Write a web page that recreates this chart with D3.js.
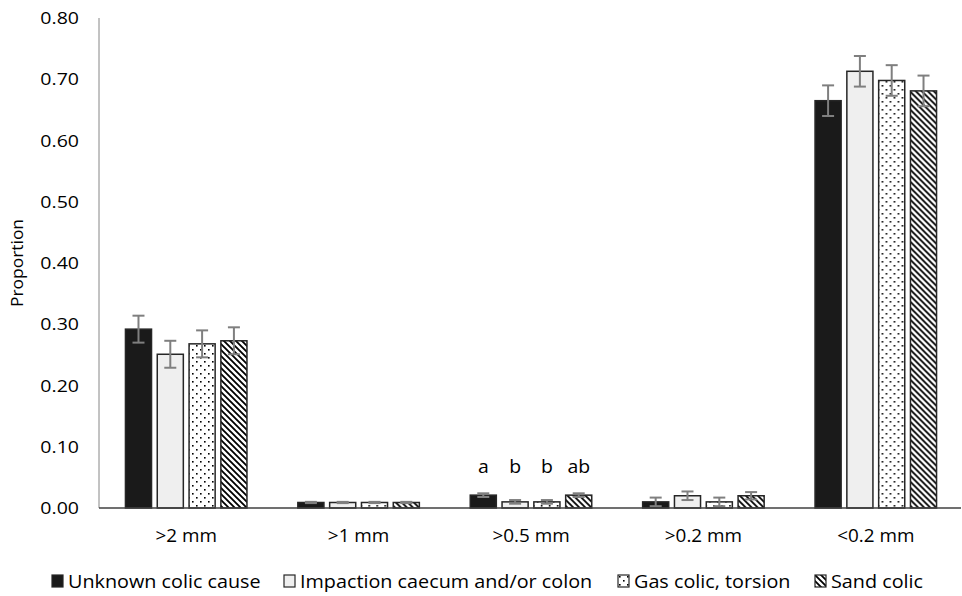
<!DOCTYPE html>
<html>
<head>
<meta charset="utf-8">
<script src="https://cdn.jsdelivr.net/npm/d3@7"></script>
<style>
	body { margin: 0; background: #fff; }
	svg text { font-family: "Open Sans", sans-serif; fill: #000; }
</style>
</head>
<body>
<svg width="962" height="596"></svg>
<script>
var categories = [">2 mm", ">1 mm", ">0.5 mm", ">0.2 mm", "<0.2 mm"];
var seriesNames = ["Unknown colic cause", "Impaction caecum and/or colon", "Gas colic, torsion", "Sand colic"];
var unknownVals = [0.292, 0.009, 0.021, 0.010, 0.665];
var impactionVals = [0.251, 0.009, 0.010, 0.020, 0.713];
var gasVals = [0.268, 0.009, 0.010, 0.010, 0.698];
var sandVals = [0.273, 0.009, 0.021, 0.020, 0.681];
var unknownErr = [0.022, 0.001, 0.003, 0.007, 0.025];
var impactionErr = [0.022, 0.001, 0.003, 0.007, 0.025];
var gasErr = [0.022, 0.001, 0.003, 0.007, 0.025];
var sandErr = [0.022, 0.001, 0.003, 0.006, 0.025];
var sigLetters = ["a", "b", "b", "ab"]; // for >0.5 mm
var yTicks = [0, 0.1, 0.2, 0.3, 0.4, 0.5, 0.6, 0.7, 0.8];

var values = [unknownVals, impactionVals, gasVals, sandVals];
var errors = [unknownErr, impactionErr, gasErr, sandErr];
var fills = ["#1a1a1a", "#efefef", "url(#dots)", "url(#hatch)"];

var svg = d3.select("svg");
var defs = svg.append("defs");

// the original text is a bit wider than Open Sans, so stretch it sideways
function place(x, y, sx) {
	return "translate(" + x + "," + y + ") scale(" + sx + ",1)";
}

var dots = defs.append("pattern").attr("id", "dots")
	.attr("patternUnits", "userSpaceOnUse").attr("width", 8).attr("height", 8);
dots.append("rect").attr("width", 8).attr("height", 8).attr("fill", "#fff");
dots.append("rect").attr("x", 1).attr("y", 1).attr("width", 1.6).attr("height", 1.6).attr("fill", "#000");
dots.append("rect").attr("x", 5).attr("y", 5).attr("width", 1.6).attr("height", 1.6).attr("fill", "#000");

var hatch = defs.append("pattern").attr("id", "hatch")
	.attr("patternUnits", "userSpaceOnUse").attr("width", 6).attr("height", 6);
hatch.append("rect").attr("width", 6).attr("height", 6).attr("fill", "#fff");
hatch.append("path").attr("d", "M-1,-1 L7,7 M-4,2 L4,10 M2,-4 L10,4")
	.attr("stroke", "#000").attr("stroke-width", 1.8);

var x0 = d3.scaleBand().domain(categories).range([99, 961]).padding(0);
var x1 = d3.scaleBand().domain(d3.range(4)).range([1, x0.bandwidth() + 1])
	.paddingInner(0.18).paddingOuter(0.8);
var y = d3.scaleLinear().domain([0, 0.8]).range([508, 18]);

// y axis
svg.append("line").attr("x1", 99).attr("x2", 99).attr("y1", 18).attr("y2", 508)
	.attr("stroke", "#868686").attr("stroke-width", 1);
svg.selectAll(".ytick").data(yTicks).enter().append("text")
	.attr("class", "ytick")
	.attr("transform", function(d) { return place(79, y(d), 1.15); })
	.attr("dy", "0.36em").attr("text-anchor", "end")
	.style("font-size", "17px")
	.text(function(d) { return d3.format(".2f")(d); });

svg.append("text")
	.attr("transform", "translate(23," + y(0.4) + ") rotate(-90) scale(1.09,1)")
	.attr("text-anchor", "middle")
	.style("font-size", "16px")
	.text("Proportion");

// bars
var groups = svg.selectAll(".grp").data(categories).enter().append("g")
	.attr("class", "grp")
	.attr("transform", function(d) { return "translate(" + x0(d) + ",0)"; });

groups.each(function(cat, ci) {
	var g = d3.select(this);
	d3.range(4).forEach(function(si) {
		var v = values[si][ci], e = errors[si][ci];
		var bx = x1(si), bw = x1.bandwidth();
		g.append("rect")
			.attr("x", bx).attr("y", y(v))
			.attr("width", bw).attr("height", y(0) - y(v))
			.attr("fill", fills[si])
			.attr("stroke", "#262626").attr("stroke-width", 1.5);
		var cx = bx + bw / 2;
		g.append("line").attr("x1", cx).attr("x2", cx)
			.attr("y1", y(v + e)).attr("y2", y(v - e))
			.attr("stroke", "#7f7f7f").attr("stroke-width", 2);
		[v + e, v - e].forEach(function(ev) {
			g.append("line").attr("x1", cx - 6).attr("x2", cx + 6)
				.attr("y1", y(ev)).attr("y2", y(ev))
				.attr("stroke", "#7f7f7f").attr("stroke-width", 2);
		});
		if (cat === ">0.5 mm") {
			g.append("text").attr("transform", place(cx, 473, 1.08))
				.attr("text-anchor", "middle")
				.style("font-size", "18px")
				.text(sigLetters[si]);
		}
	});
});

// x axis
svg.append("line").attr("x1", 99).attr("x2", 961).attr("y1", 508).attr("y2", 508)
	.attr("stroke", "#404040").attr("stroke-width", 1.5);
svg.selectAll(".xlab").data(categories).enter().append("text")
	.attr("class", "xlab")
	.attr("transform", function(d) { return place(x0(d) + x0.bandwidth() / 2 + 1, 542, 1.08); })
	.attr("text-anchor", "middle")
	.style("font-size", "17.5px")
	.text(function(d) { return d; });

// legend
var legendX = [52, 284, 618, 815];
var leg = svg.selectAll(".leg").data(seriesNames).enter().append("g")
	.attr("class", "leg")
	.attr("transform", function(d, i) { return "translate(" + legendX[i] + ",575)"; });
leg.append("rect").attr("x", 0).attr("y", 0).attr("width", 11).attr("height", 12)
	.attr("fill", function(d, i) { return fills[i]; })
	.attr("stroke", "#262626").attr("stroke-width", 1.2);
leg.append("text").attr("transform", place(16, 6, 1.07))
	.attr("dy", "0.36em")
	.style("font-size", "18.5px")
	.text(function(d) { return d; });
</script>
</body>
</html>
